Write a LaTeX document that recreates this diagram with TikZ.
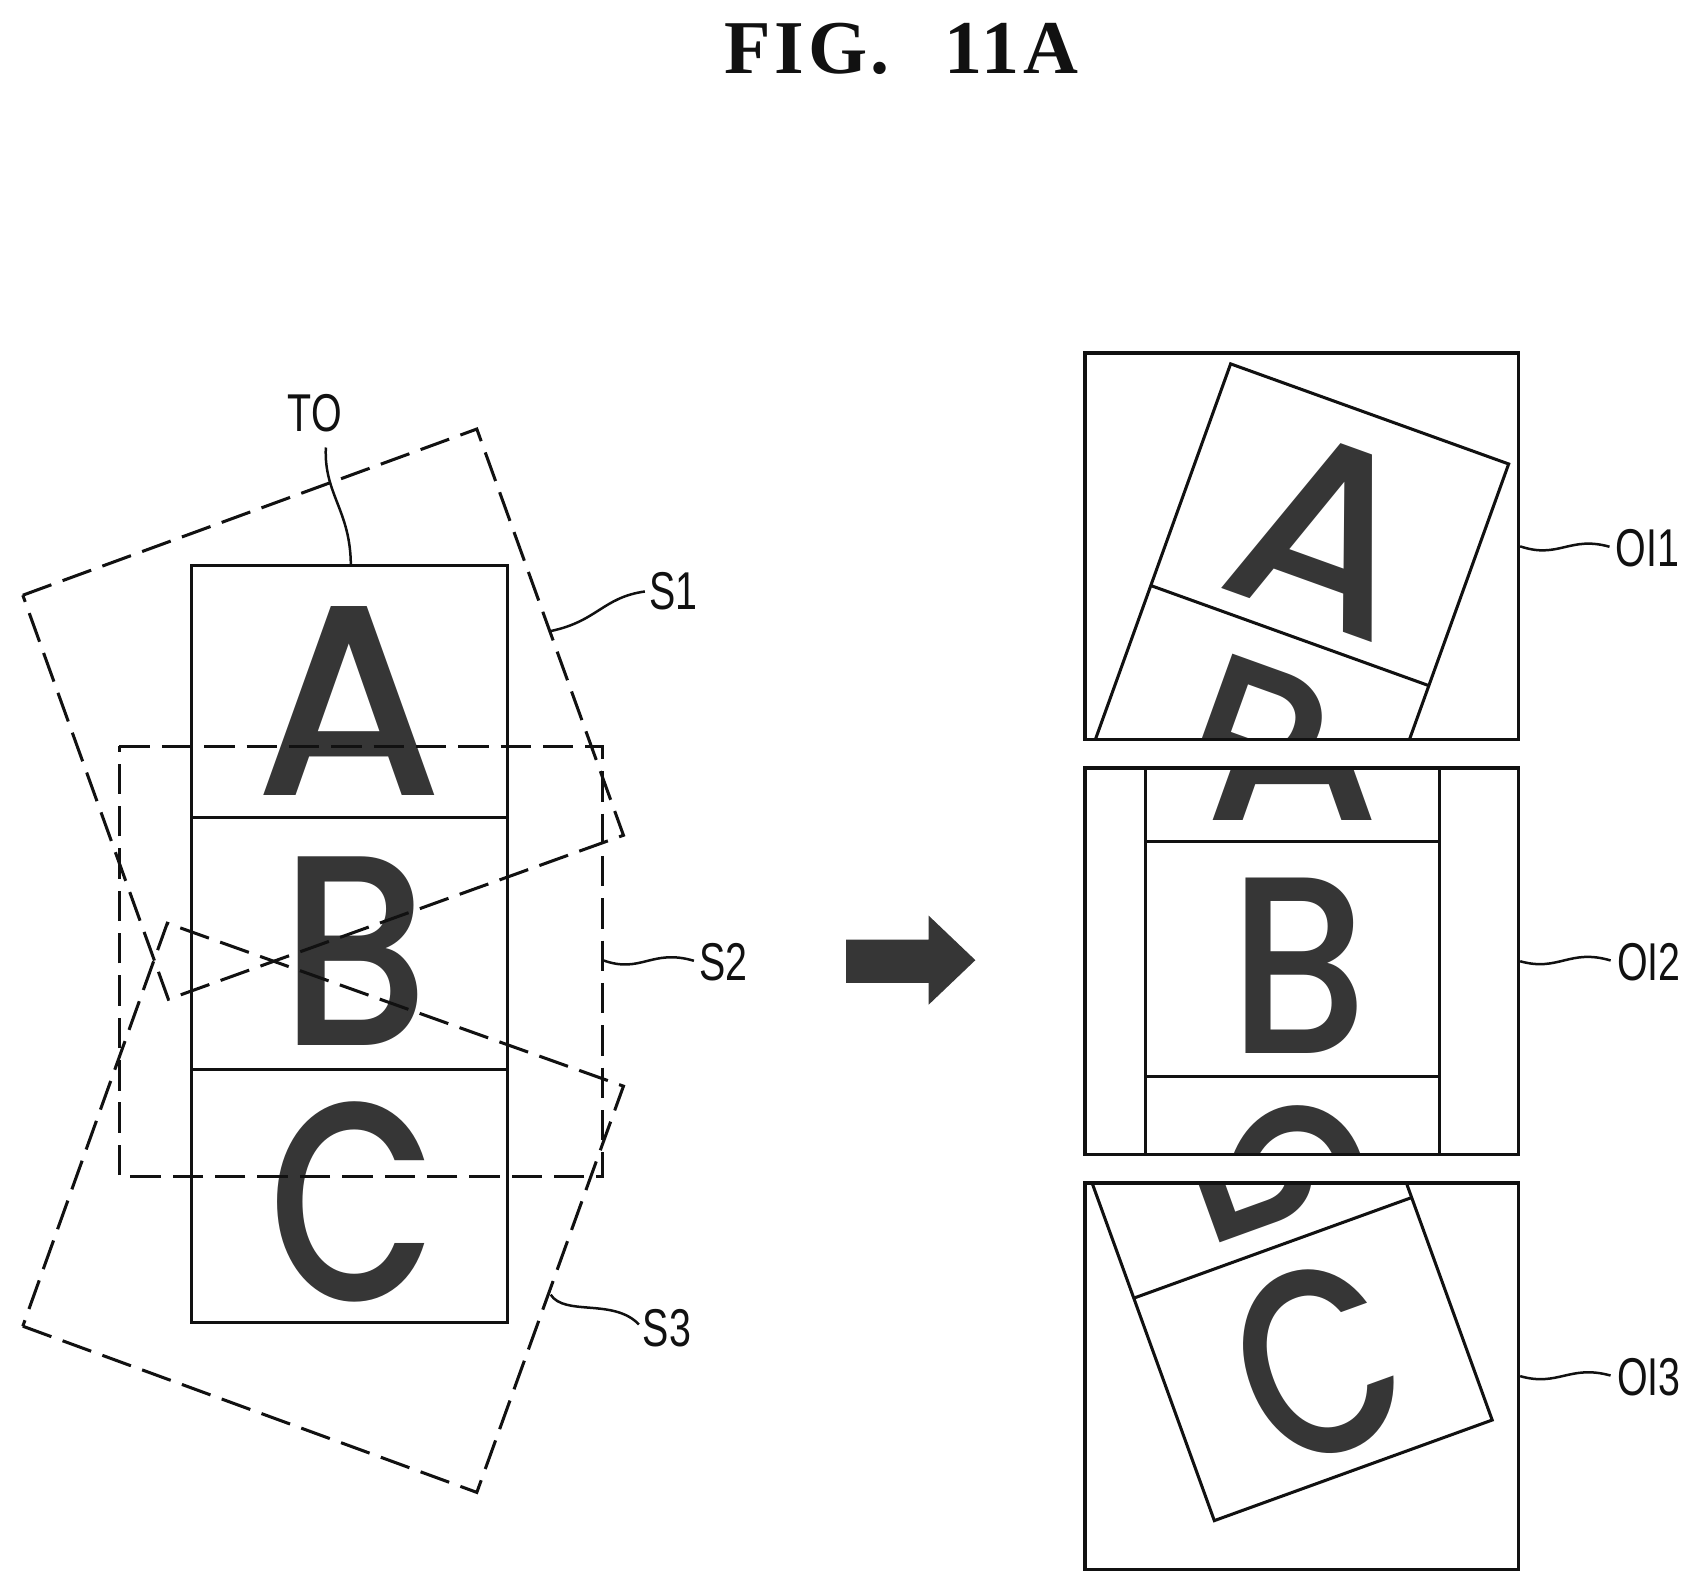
\documentclass[tikz,border=0pt]{standalone}
\usepackage{fontspec}
\setmainfont{Liberation Serif}
\newfontfamily\letterfont{Poppins Medium}
\newfontfamily\labelfont{Liberation Sans}
\definecolor{ink}{HTML}{111111}
\definecolor{letterink}{HTML}{363636}
\tikzset{
  objline/.style={draw=ink,line width=2.8pt},
  dashline/.style={draw=ink,line width=2.8pt,dash pattern=on 28pt off 11pt},
  leader/.style={draw=ink,line width=2.3pt},
  panel/.style={draw=ink,line width=3.2pt,minimum width=399pt,minimum height=356pt,inner sep=0pt},
  bigletter/.style={anchor=base,inner sep=0pt,text=letterink,transform shape,font=\letterfont\fontsize{250}{250}\selectfont},
  reflabel/.style={inner sep=0pt,xscale=.74,transform shape,text=ink,font=\labelfont\fontsize{49}{49}\selectfont},
}
\newcommand{\letterA}[1]{\node[bigletter] (#1A) at (321,732) {A};}
\newcommand{\letterB}[1]{\node[bigletter,xscale=.87] (#1B) at (327,963) {B};}
\newcommand{\letterC}[1]{\node[bigletter,xscale=.8,yscale=1.04] (#1C) at (325,1197) {C};}
\newcommand{\objectframe}{%
  \draw[objline] (176,521) rectangle (467,1218);
  \draw[objline] (176,753) -- (467,753);
  \draw[objline] (176,985) -- (467,985);
}
\begin{document}
\begin{tikzpicture}[x=1pt,y=-1pt]
\useasboundingbox (0,0) rectangle (1567,1465);
\node[inner sep=0pt,anchor=center,text=ink,font=\bfseries\fontsize{70}{70}\selectfont\addfontfeatures{LetterSpace=5}] (title) at (830,45) {FIG.\hspace{50pt}11A};
% target object
\letterA{to}\letterB{to}\letterC{to}
\objectframe
\coordinate (totop) at (323,521);
% sectors
\coordinate (s1a) at (21,548); \coordinate (s1b) at (439,395); \coordinate (s1c) at (574,769); \coordinate (s1d) at (155,920);
\coordinate (s3a) at (21,1221); \coordinate (s3b) at (439,1374); \coordinate (s3c) at (574,1000); \coordinate (s3d) at (154,850);
\coordinate (s2a) at (110,687); \coordinate (s2b) at (555,687); \coordinate (s2c) at (555,1083); \coordinate (s2d) at (110,1083);
\draw[dashline] (s1a) -- (s1b) -- (s1c) -- (s1d) -- cycle;
\draw[dashline] (s2a) -- (s2b) -- (s2c) -- (s2d) -- cycle;
\draw[dashline] (s3a) -- (s3b) -- (s3c) -- (s3d) -- cycle;
% labels
\node[reflabel] (tol) at (290,380) {TO};
\node[reflabel] (s1l) at (620,544) {S1};
\node[reflabel] (s2l) at (666,886) {S2};
\node[reflabel] (s3l) at (614,1223) {S3};
\node[reflabel] (oi1l) at (1517,505) {OI1};
\node[reflabel] (oi2l) at (1518,886) {OI2};
\node[reflabel] (oi3l) at (1518,1268) {OI3};
% arrow
\fill[letterink] (779,865) -- (855,865) -- (855,843) -- (898,884) -- (855,925) -- (855,905) -- (779,905) -- cycle;
% output images
\begin{scope}
  \clip (999,325) rectangle (1398,681);
  \begin{scope}[shift={(1133,335)},rotate=-19.8,scale=.935,shift={(-176,-521)}]
    \letterA{a}\letterB{a}\objectframe
  \end{scope}
\end{scope}
\begin{scope}
  \clip (999,707) rectangle (1398,1063);
  \begin{scope}[shift={(1055,775)},scale=.93,shift={(-176,-753)}]
    \letterA{b}\letterB{b}\letterC{b}\objectframe
  \end{scope}
\end{scope}
\begin{scope}
  \clip (999,1089) rectangle (1398,1445);
  \begin{scope}[shift={(1118,1400)},rotate=19.9,scale=.935,shift={(-176,-1218)}]
    \letterB{c}\letterC{c}\objectframe
  \end{scope}
\end{scope}
\node[panel] (oi1) at (1198.5,503) {};
\node[panel] (oi2) at (1198.5,885) {};
\node[panel] (oi3) at (1198.5,1267) {};
% leaders
\coordinate (s1p) at (507,581); \coordinate (s2p) at (555,884); \coordinate (s3p) at (507,1192);
\coordinate (tos) at (300,412);
\draw[leader] (tos) .. controls (298,455) and (323,470) .. (totop);
\draw[leader,shorten >=4pt] (s1p) .. controls (550,572) and (555,550) .. (s1l.west);
\draw[leader,shorten >=5pt] (s2p) .. controls (590,897) and (600,873) .. (s2l.west);
\draw[leader,shorten >=5pt] (s3p) .. controls (520,1212) and (565,1195) .. (s3l.west);
\draw[leader,shorten >=6pt] (oi1.east) .. controls (1435,515) and (1445,493) .. (oi1l.west);
\draw[leader,shorten >=6pt] (oi2.east) .. controls (1435,895) and (1445,873) .. (oi2l.west);
\draw[leader,shorten >=6pt] (oi3.east) .. controls (1435,1277) and (1445,1256) .. (oi3l.west);
\end{tikzpicture}
\end{document}
